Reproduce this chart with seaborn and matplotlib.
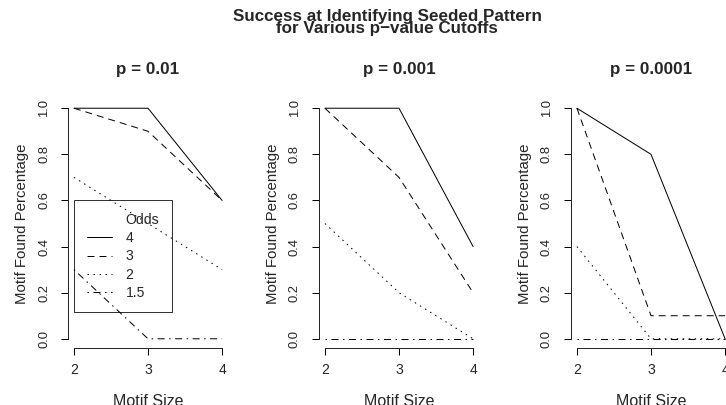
import matplotlib
matplotlib.use("Agg")
import matplotlib.pyplot as plt
from matplotlib.lines import Line2D
import pandas as pd
import seaborn as sns
import numpy as np

# motif sizes on the x axis
sizes = [2, 3, 4]
odds_levels = ["4", "3", "2", "1.5"]
p_cutoffs = ["0.01", "0.001", "0.0001"]

# rows follow odds_levels (4, 3, 2, 1.5), columns follow sizes
pct_p01 = [[1.0, 1.0, 0.6], [1.0, 0.9, 0.6], [0.7, 0.5, 0.3], [0.3, 0.0, 0.0]]
pct_p001 = [[1.0, 1.0, 0.4], [1.0, 0.7, 0.2], [0.5, 0.2, 0.0], [0.0, 0.0, 0.0]]
pct_p0001 = [[1.0, 0.8, 0.0], [1.0, 0.1, 0.1], [0.4, 0.0, 0.0], [0.0, 0.0, 0.0]]

rows = []
for p, tab in zip(p_cutoffs, [pct_p01, pct_p001, pct_p0001]):
    for odds, vals in zip(odds_levels, tab):
        for s, v in zip(sizes, vals):
            rows.append({"p": p, "Odds": odds, "Motif Size": s, "pct": v})
df = pd.DataFrame(rows)

sns.set_style("ticks")
plt.rcParams["font.family"] = ["Liberation Sans", "DejaVu Sans"]
plt.rcParams["axes.linewidth"] = 1

# R-like line types: solid, dashed, dotted, dot-dash
dash_map = {"4": "", "3": (7, 5), "2": (1.5, 4.5), "1.5": (1.5, 4.5, 7, 4.5)}

fig = plt.figure(figsize=(726 / 72, 405 / 72), dpi=72)
W, H = 726.0, 405.0
lefts = [68, 319, 571]
aw, ah = 160, 249
bottom = 405 - 348

for i, p in enumerate(p_cutoffs):
    ax = fig.add_axes([lefts[i] / W, bottom / H, aw / W, ah / H])
    sub = df[df["p"] == p]
    sns.lineplot(data=sub, x="Motif Size", y="pct", style="Odds",
                 style_order=odds_levels, dashes=dash_map, color="black",
                 linewidth=1, ax=ax, legend=(i == 0))
    for ln in ax.lines:
        ln.set_dash_capstyle("butt")
    ax.set_xlim(1.92, 4.08)
    ax.set_ylim(-0.04, 1.04)
    ax.set_xticks(sizes)
    ax.set_yticks([0, 0.2, 0.4, 0.6, 0.8, 1.0])
    ax.set_yticklabels(["0.0", "0.2", "0.4", "0.6", "0.8", "1.0"])
    sns.despine(ax=ax)
    ax.spines["left"].set_bounds(0, 1)
    ax.spines["bottom"].set_bounds(2, 4)
    ax.tick_params(axis="both", length=7, width=1, color="black")
    ax.tick_params(axis="x", pad=8, labelsize=14)
    ax.tick_params(axis="y", pad=11, labelsize=13, labelrotation=90)
    for lab in ax.get_yticklabels():
        lab.set_va("center")
    ax.set_xlabel("Motif Size", fontsize=16)
    ax.xaxis.set_label_coords(0.5, -53 / ah)
    ax.xaxis.label.set_va("center")
    ax.set_ylabel("Motif Found Percentage", fontsize=15)
    ax.yaxis.set_label_coords(-46 / aw, 0.5)
    ax.yaxis.label.set_va("center")
    ax.text(0.5, 1 + 29 / ah, "p = " + p, transform=ax.transAxes,
            ha="center", va="center", fontsize=17, fontweight="bold")
    if i == 0:
        handles, labels = ax.get_legend_handles_labels()
        for h in handles:
            h.set_color("black")
            h.set_linewidth(1)
        # first row carries the "Odds" heading with no line, as in the original
        blank = Line2D([], [], linestyle="none")
        leg = ax.legend([blank] + handles, ["Odds"] + labels, loc="upper left",
                        bbox_to_anchor=(2, 0.6), bbox_transform=ax.transData,
                        borderaxespad=0, fancybox=False, fontsize=14,
                        handlelength=1.85, handletextpad=0.95,
                        labelspacing=0.3, borderpad=0.9)
        leg.get_frame().set_facecolor("none")
        leg.get_frame().set_edgecolor("black")
        leg.get_frame().set_linewidth(1)

fig.text(387 / W, 1 - 17 / H, "Success at Identifying Seeded Pattern",
         ha="center", va="center", fontsize=17, fontweight="bold")
fig.text(387 / W, 1 - 29 / H, "for Various p\u2212value Cutoffs",
         ha="center", va="center", fontsize=17, fontweight="bold")

fig.savefig("out.png", dpi=72, facecolor="white")
